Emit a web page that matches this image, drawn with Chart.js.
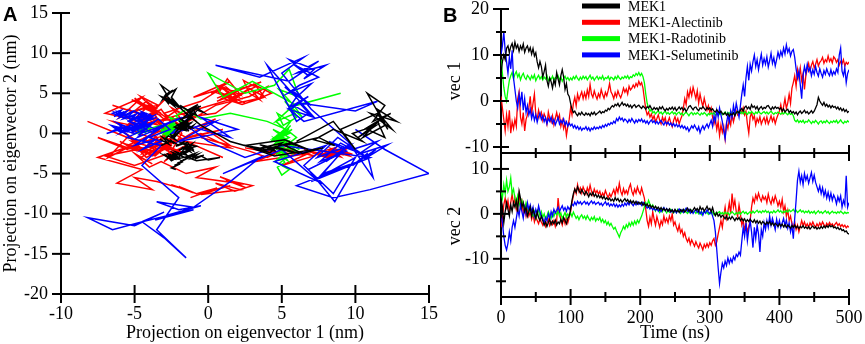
<!DOCTYPE html>
<html>
<head>
<meta charset="utf-8">
<script src="https://cdn.jsdelivr.net/npm/chart.js@4.4.1/dist/chart.umd.min.js"></script>
<style>
  body { margin: 0; background: #fff; }
  #wrap { position: relative; width: 865px; height: 344px; overflow: hidden; }
  canvas { position: absolute; left: 0; top: 0; }
  .panel { position: absolute; font: bold 20px "Liberation Sans", Arial, sans-serif; }
</style>
</head>
<body>
<div id="wrap">
  <canvas id="pca" width="865" height="344"></canvas>
  <canvas id="vec1" width="865" height="344"></canvas>
  <canvas id="vec2" width="865" height="344"></canvas>
  <div class="panel" style="left:3px;top:3px">A</div>
  <div class="panel" style="left:443px;top:4px">B</div>
</div>
<script>
// simulation time (ns), one frame every 2 ns
const timeNs = [
  0, 2, 4, 6, 8, 10, 12, 14, 16, 18,
  20, 22, 24, 26, 28, 30, 32, 34, 36, 38,
  40, 42, 44, 46, 48, 50, 52, 54, 56, 58,
  60, 62, 64, 66, 68, 70, 72, 74, 76, 78,
  80, 82, 84, 86, 88, 90, 92, 94, 96, 98,
  100, 102, 104, 106, 108, 110, 112, 114, 116, 118,
  120, 122, 124, 126, 128, 130, 132, 134, 136, 138,
  140, 142, 144, 146, 148, 150, 152, 154, 156, 158,
  160, 162, 164, 166, 168, 170, 172, 174, 176, 178,
  180, 182, 184, 186, 188, 190, 192, 194, 196, 198,
  200, 202, 204, 206, 208, 210, 212, 214, 216, 218,
  220, 222, 224, 226, 228, 230, 232, 234, 236, 238,
  240, 242, 244, 246, 248, 250, 252, 254, 256, 258,
  260, 262, 264, 266, 268, 270, 272, 274, 276, 278,
  280, 282, 284, 286, 288, 290, 292, 294, 296, 298,
  300, 302, 304, 306, 308, 310, 312, 314, 316, 318,
  320, 322, 324, 326, 328, 330, 332, 334, 336, 338,
  340, 342, 344, 346, 348, 350, 352, 354, 356, 358,
  360, 362, 364, 366, 368, 370, 372, 374, 376, 378,
  380, 382, 384, 386, 388, 390, 392, 394, 396, 398,
  400, 402, 404, 406, 408, 410, 412, 414, 416, 418,
  420, 422, 424, 426, 428, 430, 432, 434, 436, 438,
  440, 442, 444, 446, 448, 450, 452, 454, 456, 458,
  460, 462, 464, 466, 468, 470, 472, 474, 476, 478,
  480, 482, 484, 486, 488, 490, 492, 494, 496, 498,
  500
];

const labels = ['MEK1', 'MEK1-Alectinib', 'MEK1-Radotinib', 'MEK1-Selumetinib'];
const colors = ['#000000', '#ff0000', '#00ff00', '#0000ff'];

// projection on eigenvector 1 (nm)
const mek1Vec1 = [
  6, 8.5, 10, 9, 11.5, 12, 10.5, 11.8, 12.5, 11,
  12.8, 11.5, 12.2, 10.8, 12, 11.2, 12.4, 10.6, 11.5, 12,
  10.8, 11.6, 10.2, 11.4, 9.8, 10.5, 8.5, 7.2, 8.6, 7.5,
  5.2, 6.4, 7.8, 4.5, 3.2, 5, 4.2, 2.8, 4.6, 3.5,
  6.2, 4.8, 3.5, 5.5, 6.8, 5.2, 2.5, 3.8, 1.5, 1,
  -0.5, -1.8, -2.5, -2.2, -2.8, -3.2, -2.6, -3, -2.4, -2.9,
  -3.1, -2.6, -3, -2.7, -3.2, -2.5, -2.9, -2.4, -3, -2.7,
  -2.5, -2.2, -2.7, -2.3, -2.5, -2, -2.2, -1.6, -1.9, -1.4,
  -1, -1.3, -0.7, -1, -0.5, -1.2, -0.8, -0.3, -0.9, -0.6,
  -1.1, -0.7, -1.3, -0.9, -1.5, -1, -0.8, -1.4, -1.1, -0.9,
  -1.3, -1.6, -1.1, -1.4, -1.8, -1.2, -1.5, -1, -1.6, -1.9,
  -1.4, -1.8, -1.5, -2, -1.3, -1.7, -1.2, -1.8, -2.1, -1.6,
  -2, -1.5, -1.8, -1.3, -1.9, -1.4, -2.1, -1.7, -1.3, -1.8,
  -1.4, -2, -1.6, -2.3, -1.8, -1.2, -1, -1.5, -1.9, -1.4,
  -1.3, -1.8, -2.1, -1.5, -1.7, -1.2, -1.6, -2, -1.4, -1.8,
  -1.5, -2, -1.7, -2.2, -2.4, -1.9, -2.3, -2.6, -2.2, -2.7,
  -2.9, -2.5, -3.1, -2.7, -3.3, -2.8, -3, -2.6, -3.2, -2.5,
  -2.3, -2.6, -2, -1.6, -2.2, -1.4, -1.1, -1.7, -1.3, -1.8,
  -0.8, -1.4, -1.1, -1.7, -1.2, -2, -1.5, -1.2, -1.8, -1.4,
  -1.6, -1.1, -1, -1.5, -1.9, -1.3, -1.7, -1.2, -1.6, -1.4,
  -1.8, -1.5, -2.2, -1.7, -2.4, -2, -1.8, -2.5, -2.1, -2.6,
  -2.3, -2.8, -2.4, -3, -2.5, -2.2, -2.7, -2.4, -2, -2.6,
  -2.3, -2.8, -2.5, -2.1, -2.6, -2.2, -1.5, -0.8, 0.8, 0,
  -0.5, -0.9, -0.3, -1.1, -0.7, -1.3, -0.9, -1.5, -1, -1.4,
  -1.2, -1.7, -1.3, -1.9, -1.5, -2.1, -1.7, -2.3, -1.9, -2.5,
  -2.2
];
const alecVec1 = [
  1, -1.5, -4, -6.5, -3, -5.5, -2, -7, -4.5, -6,
  -4, -5.5, 0.5, 2, -3.5, -5, -2.5, -6.5, -4, -3,
  -1.5, 1, -2.8, -0.5, 1.5, -3, -4, -2, -3.5, -2.5,
  -4.2, -2.8, -3.6, -5, -2.4, -3.8, -4.6, -3.2, -5.2, -3.8,
  -2.5, -4, -3, -5.5, -4.2, -6, -4.8, -7.5, -5.5, -4,
  -1.5, -3, -0.5, 0.8, -1, 1.5, 0.2, 1.2, 2, 0.5,
  1.8, 0.6, 2.4, 1, 3.6, 1.5, 0.8, 2.2, 1.2, 0.4,
  1.6, 0.8, 2.5, 1.4, 0.6, 1.9, 1.1, 2.3, 3.8, 2,
  1.4, 0.5, 1.8, 0.9, 2.2, 1.3, 0.7, 1.6, 2.8, 1.9,
  2.6, 1.5, 3.2, 2.4, 2.8, 3.5, 2.9, 3.8, 3.2, 4.3,
  3.5, 4, 2.8, 0.5, -1.8, -3, -2.4, -3.5, -2.8, -4,
  -3.2, -4.5, -3.8, -3, -4.2, -5, -3.5, -4.4, -3.6, -5.2,
  -4.4, -3.6, -4.8, -5.6, -4.2, -3.4, -4.6, -3.8, -5, -4,
  -3.2, -1.5, 0.5, -0.8, 2, 0.8, 2.6, 1.2, 3, 1.8,
  0.5, 2.2, -0.5, 1.5, 0, -1.2, 0.6, -0.8, -2, -1,
  -2.5, -1.5, -3.5, -5, -3.8, -6.2, -4.5, -7.5, -5.2, -6.8,
  -5.5, -8.2, -4.8, -6, -3.8, -5.2, -2.8, -4.5, -3.2, -2.2,
  -3, -2.4, -1.8, -2.6, -1.5, -3, -2.2, -5, -7, -3.5,
  -2.5, -4, -3.2, -5.2, -3.8, -4.6, -3.4, -5, -4.2, -3.6,
  -4.8, -3.5, -5, -4.2, -3.2, -4.4, -3.6, -4.9, -3.8, -3,
  -2.2, -0.8, -2.5, -1.2, 0.5, -1.6, -0.4, 1.5, -0.5, 2.8,
  4, 5.5, 3.2, 6.8, 5, 7.2, 4.5, 6, 2.5, 5.5,
  7, 8.2, 6.5, 7.8, 8.6, 7.2, 8, 9, 7.6, 8.4,
  8.8, 9.5, 8.2, 9, 8.5, 9.8, 8.6, 9.2, 8.3, 9.6,
  9.2, 8.4, 9, 7.8, 8.6, 8.1, 9, 7.6, 8.4, 8,
  8.5
];
const radoVec1 = [
  9, 6, 3, 1, 0, 2.5, 4.5, 5.5, 6.2, 4.8,
  5.8, 6.4, 5.2, 5.9, 4.6, 5.5, 6, 5.1, 4.7, 5.6,
  5.2, 4.6, 5.5, 4.9, 5.7, 4.4, 5.1, 5.6, 4.8, 5.3,
  4.6, 5.2, 4.8, 5.5, 4.4, 5, 4.7, 5.4, 4.5, 5.1,
  4.9, 5.5, 4.6, 5.2, 4.3, 4.9, 5.4, 4.7, 5.1, 4.5,
  5, 4.6, 5.3, 4.8, 5.5, 4.9, 4.5, 5.2, 4.7, 5.4,
  4.9, 5.3, 4.6, 5.1, 5.6, 4.8, 5.2, 4.5, 5, 5.4,
  4.7, 5.2, 4.8, 5.5, 4.6, 5.1, 4.9, 5.4, 4.6, 5.2,
  5, 4.6, 5.3, 4.8, 5.5, 5, 4.7, 5.2, 4.9, 5.4,
  5, 5.5, 4.8, 5.3, 5.1, 5.7, 5.4, 6, 5.6, 6.2,
  5.5, 6, 5.3, 4, 1.5, -0.5, -1.5, -2.2, -1.8, -2.6,
  -2.3, -2.8, -2.4, -2.1, -2.7, -2.4, -2.9, -2.5, -2.2, -2.8,
  -2.5, -2.9, -2.6, -2.3, -2.8, -2.5, -3, -2.6, -2.4, -2.9,
  -2.6, -3.1, -2.7, -2.4, -2.8, -3.2, -2.7, -2.5, -3, -2.6,
  -2.9, -2.5, -2.8, -3.1, -2.6, -2.9, -2.5, -2.8, -3.2, -2.7,
  -3, -2.6, -2.9, -2.5, -3.1, -2.7, -2.4, -2.9, -2.6, -3,
  -2.7, -2.4, -2.9, -2.5, -2.8, -2.3, -2.7, -2.5, -2.9, -2.4,
  -2.6, -2.2, -2.7, -2.4, -2.8, -2.3, -2.6, -2.9, -2.4, -2.7,
  -2.3, -2.6, -2.9, -2.4, -2.7, -2.2, -2.6, -2.8, -2.5, -2.3,
  -2.7, -2.4, -2.8, -2.5, -2.2, -2.6, -2.9, -2.5, -2.7, -2.4,
  -2.6, -2.9, -2.5, -2.8, -2.4, -2.7, -3, -2.6, -2.9, -2.7,
  -3.2, -4.2, -4.5, -4.1, -4.7, -4.3, -4.6, -4.2, -4.8, -4.4,
  -4.6, -4.1, -4.5, -4.9, -4.4, -4.7, -4.2, -4.6, -5, -4.5,
  -4.3, -4.8, -4.4, -4.7, -4.2, -4.6, -4.9, -4.4, -4.7, -4.3,
  -4.6, -4.2, -4.8, -4.5, -4.1, -4.6, -4.9, -4.4, -4.7, -4.3,
  -4.6
];
const selVec1 = [
  10, 12, 15, 11, 8.5, 6, 9.5, 7, 11, 5,
  2.5, 0, -1.5, 1.5, -0.5, 2, -2, 0.5, -2.5, -1,
  -3, -1.8, -3.8, -2.5, -4.2, -3, -4.6, -3.4, -2.6, -4,
  -3.2, -4.5, -3.6, -5, -3.8, -4.4, -3.5, -4.8, -4, -5.2,
  -4.4, -3.6, -5, -4.2, -4.8, -3.9, -5.2, -4.5, -5.5, -4.8,
  -5.4, -5, -5.8, -5.3, -6, -5.5, -6.2, -5.7, -6.4, -5.9,
  -6.1, -5.6, -6.3, -5.8, -6.5, -5.9, -6.2, -5.6, -6.1, -5.7,
  -6, -5.5, -5.9, -5.3, -5.7, -5.1, -5.5, -4.9, -5.2, -4.7,
  -5, -4.4, -4.8, -3.8, -4.3, -3.5, -4.1, -3.7, -4.4, -3.9,
  -4.2, -4.7, -4, -4.5, -3.8, -4.3, -4.8, -4.1, -4.6, -4,
  -4.4, -3.9, -4.6, -4.2, -4.8, -4.3, -5, -4.5, -4.1, -4.7,
  -4.3, -4.9, -4.4, -5, -4.6, -4.2, -4.8, -5.2, -4.5, -5,
  -4.6, -5.2, -4.8, -5.4, -4.9, -5.5, -5, -5.6, -5.2, -5.8,
  -5.3, -5.9, -5.5, -6.2, -5.7, -6.6, -6, -5.4, -5.9, -5.2,
  -5.8, -6.4, -5.6, -6.9, -6, -5.4, -6.2, -5.5, -5, -5.8,
  -5, -4.2, -5.5, -3.2, -4.5, -2, -3.5, -1.5, -3, -4.5,
  -6.5, -8.2, -5, -3, -4.5, -2.2, -3.6, -1, -2.8, -0.5,
  -2, -3.5, -1, 1.5, 3.5, 1, 5, 7.5, 4.5, 8,
  6.5, 8.5, 10, 7.5, 9, 6.8, 8.6, 10.2, 7.8, 9.2,
  8, 9.6, 7.4, 8.8, 10.4, 8.2, 9.4, 7.6, 9, 10.6,
  9.4, 10.8, 9.8, 11.5, 10.2, 12.2, 10.6, 11.4, 9.8, 10.8,
  11.2, 9.5, 7, 5, 6.5, 3.5, 0.5, 5.5, 7.5, 6,
  8, 6.5, 7.2, 5.5, 6.8, 5.8, 7.5, 6.2, 5.4, 7,
  6, 5.2, 6.6, 5.8, 7, 6.1, 5.5, 6.8, 5.6, 6.4,
  5.8, 7, 6.2, 10, 11.5, 6.5, 5.5, 7.2, 4, 6,
  6.8
];

// projection on eigenvector 2 (nm)
const mek1Vec2 = [
  -1, 1.5, -2, 0.5, 2.5, 1, -0.5, 2, 0.5, 2.5,
  1.5, 3, 0.5, 5, 3.5, 1.5, 2.5, 0.5, 1.5, -0.5,
  0.5, 1.5, -0.5, 1, 0, -1, 0.5, -0.8, -1.5, -0.5,
  -1.5, -2.5, -1.8, -2.8, -2, -1.2, -2.4, -1.6, -2.2, -1.4,
  -2.5, -1.8, -2.2, -1.2, -2, -0.8, -1.5, -2.2, -1, -0.5,
  1, 3, 4.5, 5.5, 4.8, 6, 5.2, 4.6, 5.4, 4.8,
  4.2, 5, 4.5, 3.8, 4.6, 4.1, 4.8, 3.9, 4.4, 3.7,
  4.2, 3.6, 4, 3.4, 3.9, 3.2, 3.6, 3.1, 3.5, 2.9,
  3.3, 2.8, 3.6, 3, 3.4, 2.7, 3.2, 2.6, 3, 3.4,
  2.8, 3.2, 2.5, 3, 2.4, 2.9, 2.3, 2.8, 2.2, 2.6,
  2.2, 2.6, 1.9, 2.4, 1.8, 2.2, 1.6, 2, 1.4, 1.8,
  1.3, 1.7, 1.1, 1.5, 0.9, 1.4, 0.8, 1.2, 0.7, 1.1,
  0.6, 1.1, 0.5, 0.9, 0.4, 1, 0.5, 0.8, 0.3, 0.9,
  0.5, 1, 0.4, 0.8, 1.3, 0.6, 1, 0.4, 0.9, 1.4,
  0.8, 1.2, 0.5, 1.6, 0.9, 1.3, 0.6, 1.1, 1.7, 0.9,
  1.2, 0.5, 1.4, 0.2, -0.4, 0.3, -0.5, -0.1, -0.8, -0.3,
  -0.6, -1.1, -0.5, -1.3, -0.7, -1.2, -0.6, -1, -1.5, -0.9,
  -1.3, -0.8, -1.5, -1, -1.6, -1.1, -1.8, -1.3, -1.7, -1.2,
  -1.6, -1.9, -1.3, -2, -1.5, -2.1, -1.6, -2.3, -1.7, -2,
  -2.4, -1.8, -2.2, -1.7, -2.5, -2, -2.6, -2.1, -2.4, -2.8,
  -2.2, -2.7, -2.3, -2.9, -2.4, -3, -2.5, -2.8, -3.2, -2.6,
  -3, -2.5, -3.1, -2.7, -3.3, -2.8, -3.1, -2.6, -3.2, -2.9,
  -3.3, -2.8, -3.4, -3, -2.7, -3.2, -2.9, -3.4, -3, -3.3,
  -2.8, -3.2, -2.7, -3.1, -2.6, -3, -2.5, -2.9, -2.6, -3.1,
  -2.9, -3.3, -3, -3.5, -3.2, -3.7, -3.5, -4, -3.8, -4.3,
  -4.5
];
const alecVec2 = [
  -3, -1, 2, 3.5, 1.5, 3, 0.5, 2.5, 4.5, 2,
  3.5, 1, 2.5, 4.5, 1.5, 2.8, 0, 1.5, -0.5, 1,
  -0.5, 0.5, -1.2, 0, -1.8, -0.6, -1.5, -2.2, -1, -1.8,
  -2.5, -1.5, -2.8, -2, -1.2, -2.6, -1.8, -2.4, -1.5, -2.8,
  -1.5, 3.5, 0.5, -1.5, -2.5, -1, -2.2, -0.5, -2, -0.8,
  0.5, 2.5, 4, 5.5, 4.5, 6.5, 5, 5.8, 4.6, 6,
  5.2, 4.4, 5.8, 4.8, 6.4, 5, 4.2, 5.5, 4.6, 5.2,
  4.4, 5, 3.8, 4.6, 4, 5.2, 4.3, 3.6, 4.5, 3.8,
  4.6, 5.4, 4.2, 5.8, 4.8, 6.8, 5, 4.2, 5.6, 4.5,
  5.2, 4.4, 5.8, 6.6, 5, 4.2, 5.5, 4.6, 6, 5,
  4.4, 5.8, 4.6, 3.5, 1, -1.5, -2.8, -0.8, -2.2, 0.5,
  -1.2, -2.5, -0.6, -1.8, -3, -1.5, -2.4, -0.5, -1.8, -1,
  -2, -0.5, -1.5, 0, -2.5, -1.8, -3, -3.8, -2.5, -4.2,
  -3.5, -5, -4.2, -5.5, -6.2, -5.4, -6.8, -5.8, -6.5, -7.2,
  -6.2, -7, -7.6, -6.5, -7.2, -8, -6.8, -7.5, -6.6, -7.4,
  -6.4, -7, -6, -5.5, -7, -6.2, -4.5, -3, -1.5, -3,
  -0.5, 1.5, -1, 0.5, 2.5, 0, 4.5, 1.5, 3, 0.5,
  -0.5, 2, 0, -2.5, -1.5, -3.5, -2.2, -4, -2.8, -1.5,
  1.5, 3.5, 2.5, 4.2, 3.2, 4.6, 3.5, 2.8, 4, 3.2,
  3.8, 2.5, 4.4, 3, 2.2, 3.6, 2.6, 4, 3, 1.8,
  2.8, 1.5, 3.2, 0.5, 1.8, -0.5, 0.8, -1.5, -0.5, -2.2,
  -3, -1.8, -3.5, -2.5, -4, -2.8, -1.5, -2.6, -1.8, -2.8,
  -2.2, -3, -2, -2.6, -1.8, -2.5, -3, -2.2, -2.8, -2,
  -2.6, -1.8, -2.4, -2.9, -2.1, -2.6, -1.9, -2.5, -2.2, -2.8,
  -2.3, -1.9, -2.6, -2.2, -2.8, -2.4, -2.9, -2.5, -3.1, -2.7,
  -3
];
const radoVec2 = [
  5, 3.5, 6.5, 4.5, 7.5, 5, 6, 8, 4.5, 5.5,
  3.5, 2, 4, 2.5, 1.5, 3, 2, 1, 2.5, 1.5,
  0.5, 1.5, 0, -0.5, 0.5, -1, 0, 1, -0.5, 0.5,
  -0.8, 0, -1.2, -0.5, 0.5, -0.3, -1, 0.2, -0.6, 0.4,
  -0.2, 0.6, -0.5, 0.2, -1, -0.4, 0.3, -0.8, 0, -0.5,
  0.2, -0.6, 0.4, -0.3, -1, -0.5, -1.3, -0.6, -0.2, -1,
  -0.5, -1.2, -0.4, -1, -1.5, -0.8, -1.3, -0.6, -1.6, -1,
  -1.4, -0.8, -1.8, -1.2, -2, -1.5, -2.4, -1.8, -2.6, -2.1,
  -2.8, -3.4, -3, -3.8, -4.5, -5.2, -4.2, -3.6, -2.8, -3.4,
  -2.4, -3, -2, -2.7, -1.8, -2.5, -1.6, -2.3, -1.4, -2,
  -1.2, -0.5, 0.5, 1.5, 2.5, 1.8, 3, 2.2, 1.5, 2,
  1.2, 0.6, 1.4, 0.8, 0.3, 1.1, 0.5, 1.3, 0.7, 0.2,
  0.9, 0.4, 1, 0.5, 0.2, 0.8, 0.3, 1, 0.6, 0.1,
  0.7, 0.3, 0.9, 0.4, 0.1, 0.6, 0.2, 0.8, 0.3, 0.6,
  0.1, 0.5, 0, 0.4, -0.2, 0.3, 0.6, 0.1, 0.4, -0.1,
  0.3, 0, 0.4, -0.2, 0.2, -0.1, 0.3, 0.5, 0, 0.3,
  -0.1, 0.4, 0, 0.3, -0.3, 0.2, 0.5, 0.1, -0.2, 0.3,
  0, 0.4, -0.1, 0.3, 0.6, 0.1, 0.4, -0.1, 0.2, 0.5,
  0.1, 0.6, 0.2, 0.5, 0.8, 0.3, 0.6, 0.2, 0.7, 0.4,
  0.8, 0.3, 0.6, 0.1, 0.5, 0.2, 0.7, 0.3, 0.5, 0.9,
  0.4, 0.7, 0.2, 0.6, 0.3, 0.8, 0.4, 0.9, 0.5, 0.7,
  1, 0.5, 0.8, 0.3, 0.6, 0.9, 0.4, 0.7, 0.2, 0.6,
  0.3, 0.7, 0.1, 0.5, 0.2, 0.6, 0, 0.4, 0.7, 0.2,
  0.5, 0.1, 0.4, 0.7, 0.2, 0.5, 0, 0.3, 0.6, 0.2,
  0.4, 0.1, 0.5, 0.2, 0.6, 0.3, 0, 0.4, 0.1, 0.3,
  0.2
];
const selVec2 = [
  0.5, -2, -5, -7, -8, -6.5, -4, -6, -3, -1.5,
  -3, -1, 1, -0.5, 2, 0.5, -1, 1.5, 0, 2.5,
  1, 2, 0.5, 1.5, -0.5, 1, 0, 1.8, 0.5, -0.5,
  -1, -2, -0.8, -1.5, 0, -1, 0.5, -0.5, 1, 0.2,
  0.8, 1.5, 0.5, 1.2, 1.8, 0.8, 1.4, 0.6, 1.6, 1,
  1.5, 2.2, 1.8, 2.6, 2, 2.8, 2.3, 2.7, 2.1, 2.5,
  2.8, 2.2, 2.6, 2, 2.5, 2.9, 2.3, 2.7, 2.1, 2.4,
  2.6, 2, 2.4, 1.8, 2.3, 2.7, 2, 2.4, 1.7, 2.2,
  1.8, 2.3, 1.6, 2.1, 1.5, 2, 1.6, 2.2, 1.7, 2.4,
  1.9, 2.5, 2, 2.7, 2.2, 1.8, 2.5, 2, 2.6, 2.1,
  2.4, 1.9, 2.6, 2.2, 1.8, 1.3, 1.7, 1.1, 1.5, 0.9,
  1.3, 0.8, 1.2, 0.6, 1.1, 0.5, 1, 1.4, 0.7, 1.2,
  0.6, 1, 0.4, 0.9, 0.3, 0.8, 0.2, 0.7, 1.1, 0.5,
  0.9, 0.3, 0.8, 1.3, 0.6, 1, 0.2, 0.7, 0.1, 0.6,
  1, 0.4, 0.8, 0, 0.5, -0.3, 0.6, 0.2, 0.9, 0.4,
  0, 0.6, -0.5, -1.5, -4, -8, -12, -15.5, -13, -11,
  -12, -10.5, -11.5, -9.8, -11, -10, -10.8, -9.5, -10.2, -9,
  -9.5, -8.5, -9.2, -6, -3, -5, -2, -6, -3.5, -1.5,
  -4, -7.5, -3, -5.5, -2.5, -4.5, -8.5, -3.5, -5, -2,
  -3.5, -1.5, -3, -0.5, -2.5, -1, -2.2, -3.5, -1.2, -2.8,
  -1.5, -3, -2, -1, -2.6, -1.4, -3.2, -2, -4, -2.5,
  -5.5, -1, 3, 7.5, 9.5, 7, 8.5, 6.5, 9, 7.5,
  8.5, 6.8, 8, 9.2, 7.2, 8.6, 7, 6, 5, 6.2,
  4.5, 5.8, 4, 5.2, 3.5, 4.8, 3.2, 4.6, 3, 4.2,
  3.5, 2.2, 3.8, 2.8, 4, 1.5, 3, 2, 8.5, 1.5,
  2.5
];

const vec1Series = [mek1Vec1, alecVec1, radoVec1, selVec1];
const vec2Series = [mek1Vec2, alecVec2, radoVec2, selVec2];
const drawOrder = [1, 4, 3, 2]; // black on top, red at the bottom

Chart.defaults.font.family = '"Liberation Serif", "Times New Roman", serif';
Chart.defaults.font.size = 18;
Chart.defaults.color = '#000';

// tick marks that cross the axis line, like the original plotting program
const crossTicks = {
  id: 'crossTicks',
  afterDraw(chart, args, opts) {
    const ctx = chart.ctx;
    ctx.save();
    ctx.strokeStyle = '#000';
    ctx.lineWidth = 2;
    Object.values(chart.scales).forEach(scale => {
      scale.ticks.forEach(tick => {
        const [inner, outer] = tick.label === '' ? opts.minor : opts.major;
        const p = scale.getPixelForValue(tick.value);
        ctx.beginPath();
        if (scale.axis === 'x') {
          ctx.moveTo(p, scale.top - inner);
          ctx.lineTo(p, scale.top + outer);
        } else {
          ctx.moveTo(scale.right + inner, p);
          ctx.lineTo(scale.right - outer, p);
        }
        ctx.stroke();
      });
    });
    ctx.restore();
  }
};

// legend drawn inside the top right plot
const vecLegend = {
  id: 'vecLegend',
  afterDraw(chart, args, opts) {
    if (!opts.show) return;
    const { ctx, chartArea } = chart;
    const x0 = chartArea.left + 81;
    ctx.save();
    ctx.font = '14px "Liberation Serif", "Times New Roman", serif';
    ctx.textBaseline = 'middle';
    chart.data.datasets.forEach((ds, i) => {
      const y = chartArea.top - 3 + i * 16.3;
      ctx.fillStyle = ds.borderColor;
      ctx.fillRect(x0, y - 2.5, 38, 5);
      ctx.fillStyle = '#000';
      ctx.fillText(ds.label, x0 + 46, y + 1);
    });
    ctx.restore();
  }
};

function fixScale(size, horizontal) {
  return s => {
    if (horizontal) s.height = size; else s.width = size;
    s.paddingTop = s.paddingBottom = s.paddingLeft = s.paddingRight = 0;
  };
}

function axis(opts) {
  return Object.assign({
    type: 'linear',
    grid: { display: false, drawTicks: false },
    border: { display: true, color: '#000', width: 2 }
  }, opts);
}

// A: projection of the trajectories on the first two eigenvectors
new Chart(document.getElementById('pca'), {
  type: 'scatter',
  data: {
    datasets: labels.map((lab, k) => ({
      label: lab,
      data: timeNs.map((t, i) => ({ x: vec1Series[k][i], y: vec2Series[k][i] })),
      showLine: true,
      borderColor: colors[k],
      borderWidth: 1.5,
      pointRadius: 0,
      order: drawOrder[k]
    }))
  },
  options: {
    responsive: false,
    animation: false,
    events: [],
    layout: { autoPadding: false, padding: { left: 0, top: 13, right: 436, bottom: 0 } },
    scales: {
      x: axis({
        min: -10, max: 15,
        ticks: { stepSize: 5, padding: 9, autoSkip: false, maxRotation: 0 },
        title: { display: true, text: 'Projection on eigenvector 1 (nm)', padding: 0 },
        afterFit: fixScale(50, true)
      }),
      y: axis({
        min: -20, max: 15,
        ticks: { stepSize: 5, padding: 13, autoSkip: false },
        title: { display: true, text: 'Projection on eigenvector 2 (nm)', padding: 0 },
        afterFit: fixScale(61, false)
      })
    },
    plugins: {
      legend: { display: false },
      tooltip: { enabled: false },
      crossTicks: { major: [9, 9], minor: [5, 5] }
    }
  },
  plugins: [crossTicks]
});

function timeChart(id, series, yMin, yMax, yTicks, yTitle, top, bottomPad, xHeight, showX, showLegend) {
  return new Chart(document.getElementById(id), {
    type: 'line',
    data: {
      datasets: labels.map((lab, k) => ({
        label: lab,
        data: timeNs.map((t, i) => ({ x: t, y: series[k][i] })),
        borderColor: colors[k],
        borderWidth: 1.3,
        pointRadius: 0,
        tension: 0,
        order: drawOrder[k]
      }))
    },
    options: {
      responsive: false,
      animation: false,
      events: [],
      layout: { autoPadding: false, padding: { left: 440, top: top, right: 16, bottom: bottomPad } },
      scales: {
        x: axis({
          min: 0, max: 500,
          ticks: {
            display: showX, stepSize: 50, padding: 10, autoSkip: false, maxRotation: 0,
            callback: v => (v % 100 === 0 ? String(v) : '')
          },
          title: { display: showX, text: 'Time (ns)', padding: 0 },
          afterFit: fixScale(xHeight, true)
        }),
        y: axis({
          min: yMin, max: yMax,
          afterBuildTicks: s => { s.ticks = yTicks.map(v => ({ value: v })); },
          ticks: { padding: 12, autoSkip: false, callback: v => (v % 10 === 0 ? String(v) : '') },
          title: { display: true, text: yTitle, padding: { top: 4 } },
          afterFit: fixScale(61, false)
        })
      },
      plugins: {
        legend: { display: false },
        tooltip: { enabled: false },
        crossTicks: { major: [8, 8], minor: [5, 5] },
        vecLegend: { show: showLegend }
      }
    },
    plugins: [crossTicks, vecLegend]
  });
}

// B: the two projections against time
timeChart('vec1', vec1Series, -11.3, 20, [-10, -5, 0, 5, 10, 15, 20], 'vec 1', 9, 181, 10, false, true);
timeChart('vec2', vec2Series, -18.5, 13.1, [-15, -10, -5, 0, 5, 10], 'vec 2', 155, 0, 47, true, false);
</script>
</body>
</html>
